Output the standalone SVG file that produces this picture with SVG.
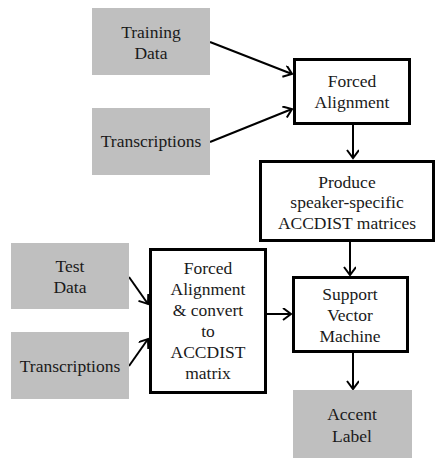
<svg xmlns="http://www.w3.org/2000/svg" width="436" height="458" viewBox="0 0 436 458">
<style>
.in{fill:#bfbfbf;stroke:none}
.pr{fill:#fff;stroke:#000;stroke-width:3}
.t text{font-size:17.5px;fill:#1a1a1a;text-anchor:middle}
.c{stroke:#000;stroke-width:2;fill:none;marker-end:url(#ah)}
</style>
<defs>
<marker id="ah" markerUnits="userSpaceOnUse" markerWidth="12" markerHeight="14" refX="9" refY="6" orient="auto">
<path d="M1,0 L9,6 L1,12" fill="none" stroke="#000" stroke-width="2"/>
</marker>
</defs>
<rect width="436" height="458" fill="#fff"/>
<g id="connectors">
<line class="c" x1="210" y1="42" x2="292" y2="74"/>
<line class="c" x1="210" y1="142" x2="292" y2="109"/>
<line class="c" x1="353" y1="125" x2="353" y2="158"/>
<line class="c" x1="350" y1="242" x2="350" y2="275"/>
<line class="c" x1="129" y1="277" x2="148" y2="304"/>
<line class="c" x1="129" y1="366" x2="148" y2="339"/>
<line class="c" x1="267" y1="314" x2="291" y2="314"/>
<line class="c" x1="353" y1="353" x2="353" y2="389"/>
</g>
<g class="t" font-family="'Liberation Serif', 'Times New Roman', Times, 'DejaVu Serif', serif">
<g id="training-data">
<rect class="in" x="92" y="8" width="118" height="67"/>
<text x="151" y="38">Training</text><text x="151" y="59">Data</text>
</g>
<g id="transcriptions-train">
<rect class="in" x="92" y="108" width="118" height="67"/>
<text x="151" y="147">Transcriptions</text>
</g>
<g id="forced-alignment">
<rect class="pr" x="294.5" y="59.5" width="115" height="64"/>
<text x="352" y="87">Forced</text><text x="352" y="108">Alignment</text>
</g>
<g id="produce">
<rect class="pr" x="260.5" y="161.5" width="173" height="79"/>
<text x="347" y="188">Produce</text><text x="347" y="208">speaker-specific</text><text x="347" y="229">ACCDIST matrices</text>
</g>
<g id="test-data">
<rect class="in" x="11" y="243" width="118" height="66"/>
<text x="70" y="272">Test</text><text x="70" y="293">Data</text>
</g>
<g id="transcriptions-test">
<rect class="in" x="11" y="332" width="118" height="67"/>
<text x="70" y="372">Transcriptions</text>
</g>
<g id="forced-alignment-convert">
<rect class="pr" x="150.5" y="249.5" width="115" height="143"/>
<text x="208" y="274">Forced</text><text x="208" y="295">Alignment</text><text x="208" y="316">&amp; convert</text><text x="208" y="337">to</text><text x="208" y="358">ACCDIST</text><text x="208" y="379">matrix</text>
</g>
<g id="svm">
<rect class="pr" x="293.5" y="277.5" width="114" height="74"/>
<text x="350" y="300">Support</text><text x="350" y="321">Vector</text><text x="350" y="342">Machine</text>
</g>
<g id="accent-label">
<rect class="in" x="293" y="390" width="119" height="68"/>
<text x="352" y="420">Accent</text><text x="352" y="442">Label</text>
</g>
</g>
</svg>
